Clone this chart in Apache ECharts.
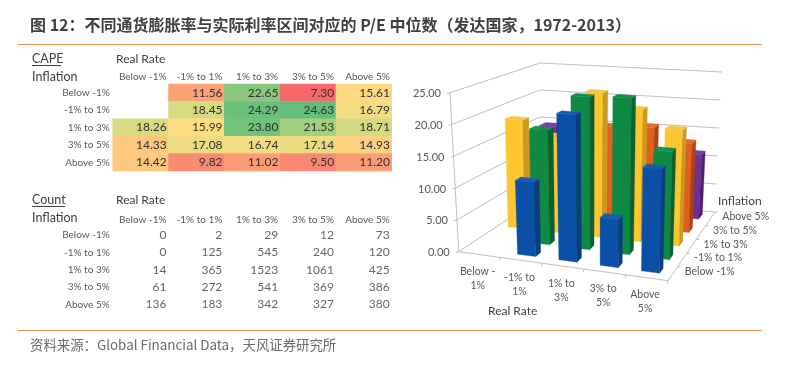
<!DOCTYPE html>
<html>
<head>
<meta charset="utf-8">
<script src="https://cdn.jsdelivr.net/npm/echarts@6/dist/echarts.min.js"></script>
<style>
  html, body { margin: 0; padding: 0; background: #fff; }
  #chart { width: 788px; height: 365px; }
</style>
</head>
<body>
<div id="chart"></div>
<script>
const titleText = "图 12：不同通货膨胀率与实际利率区间对应的 P/E 中位数（发达国家，1972-2013）";
const sourceText = "资料来源：Global Financial Data，天风证券研究所";

const realRates = ["Below -1%", "-1% to 1%", "1% to 3%", "3% to 5%", "Above 5%"];
const inflations = ["Below -1%", "-1% to 1%", "1% to 3%", "3% to 5%", "Above 5%"];
const realRatesWrapped = ["Below -\n1%", "-1% to\n1%", "1% to\n3%", "3% to\n5%", "Above\n5%"];

const capeBelow1 = [null, 11.56, 22.65, 7.3, 15.61];
const capeMinus1To1 = [null, 18.45, 24.29, 24.63, 16.79];
const cape1To3 = [18.26, 15.99, 23.8, 21.53, 18.71];
const cape3To5 = [14.33, 17.08, 16.74, 17.14, 14.93];
const capeAbove5 = [14.42, 9.82, 11.02, 9.5, 11.2];
const capeRows = [capeBelow1, capeMinus1To1, cape1To3, cape3To5, capeAbove5];

const countBelow1 = [0, 2, 29, 12, 73];
const countMinus1To1 = [0, 125, 545, 240, 120];
const count1To3 = [14, 365, 1523, 1061, 425];
const count3To5 = [61, 272, 541, 369, 386];
const countAbove5 = [136, 183, 342, 327, 380];
const countRows = [countBelow1, countMinus1To1, count1To3, count3To5, countAbove5];

const yTicks = [0, 5, 10, 15, 20, 25];

const tableFont = "Lato";
const labelColor = "#595959";
const rowColors = [
  { front: "#0b50a6", side: "#093d7c", top: "#1a5cb0" },
  { front: "#0e8a45", side: "#0a6231", top: "#159050" },
  { front: "#ffc62f", side: "#c99a1f", top: "#f5c544" },
  { front: "#e2601c", side: "#a94412", top: "#e06a2c" },
  { front: "#6f3194", side: "#4f2069", top: "#7a3ca0" }
];

// screen corners of the fake 3d box: front-left, front-right, back-right, back-left
const floorQuad = [[458.7, 251.7], [668, 280.7], [715, 212], [540, 198]];
const topQuad = [[450, 92.7], [672, 111], [722, 72], [540, 63]];

function bilinear(quad, u, v) {
  const fx = quad[0][0] + (quad[1][0] - quad[0][0]) * u;
  const fy = quad[0][1] + (quad[1][1] - quad[0][1]) * u;
  const bx = quad[3][0] + (quad[2][0] - quad[3][0]) * u;
  const by = quad[3][1] + (quad[2][1] - quad[3][1]) * u;
  return [fx + (bx - fx) * v, fy + (by - fy) * v];
}

function project(u, v, h) {
  const a = bilinear(floorQuad, u, v);
  const b = bilinear(topQuad, u, v);
  return [a[0] + (b[0] - a[0]) * h, a[1] + (b[1] - a[1]) * h];
}

function toHeight(params, api, value) {
  const cs = params.coordSys;
  return (cs.y + cs.height - api.coord([0, value])[1]) / cs.height;
}

function poly(points, fill) {
  return { type: "polygon", shape: { points: points }, style: { fill: fill, stroke: fill, lineWidth: 0.3 } };
}

function line(a, b, width) {
  return {
    type: "line",
    shape: { x1: a[0], y1: a[1], x2: b[0], y2: b[1] },
    style: { stroke: "#bfbfbf", lineWidth: width || 1 }
  };
}

function text3d(x, y, str, align, size, color) {
  return {
    type: "text",
    style: {
      x: x,
      y: y,
      text: str,
      align: align,
      verticalAlign: "middle",
      fill: color || labelColor,
      font: (size || 11) + "px " + tableFont,
      lineHeight: 14
    }
  };
}

// walls: one gridline plus one label per tick
function renderWall(params, api) {
  const tick = api.value(0);
  const h = toHeight(params, api, tick);
  const fl = project(0, 0, h);
  const bl = project(0, 1, h);
  const br = project(1, 1, h);
  return {
    type: "group",
    children: [
      line(fl, bl),
      line(bl, br),
      line(fl, [fl[0] - 3, fl[1] + 1]),
      text3d(fl[0] - 9, fl[1] + 1, tick.toFixed(2), "right", 11)
    ]
  };
}

// floor edges, tick marks and the category labels
function renderFloor(params, api) {
  const i = api.value(0);
  const children = [];
  if (i === 0) {
    children.push(line(project(0, 0, 0), project(1, 0, 0)));
    children.push(line(project(1, 0, 0), project(1, 1, 0)));
    children.push(line(project(0, 0, 0), project(0, 0, 1)));
  }
  const a = project((i + 1) / 5, 0, 0);
  children.push(line(a, [a[0] - 1, a[1] + 3]));
  const b = project(1, (i + 1) / 5, 0);
  children.push(line(b, [b[0] + 3, b[1]]));
  const front = project((i + 0.5) / 5, 0, 0);
  children.push(text3d(front[0] - 2, front[1] + 24, realRatesWrapped[i], "center", 10.5));
  const right = project(1, (i + 0.5) / 5, 0);
  children.push(text3d(right[0] + 12, right[1] - 2, inflations[i], "left", 10.5));
  return { type: "group", children: children };
}

function renderBar(params, api) {
  const col = api.value(0);
  const row = api.value(1);
  const h = toHeight(params, api, api.value(2));
  const barW = 0.44 / 5;
  const barD = 0.36 / 5;
  const u0 = (col + 0.48) / 5 - barW / 2;
  const u1 = u0 + barW;
  const v0 = (row + 0.6) / 5 - barD / 2;
  const v1 = v0 + barD;
  const c = rowColors[row];
  return {
    type: "group",
    children: [
      poly([project(u0, v0, 0), project(u1, v0, 0), project(u1, v0, h), project(u0, v0, h)], c.front),
      poly([project(u1, v0, 0), project(u1, v1, 0), project(u1, v1, h), project(u1, v0, h)], c.side),
      poly([project(u0, v0, h), project(u1, v0, h), project(u1, v1, h), project(u0, v1, h)], c.top)
    ]
  };
}

function heatData(rows) {
  const out = [];
  rows.forEach((r, y) => r.forEach((v, x) => {
    if (v !== null) out.push([x, y, v]);
  }));
  return out;
}

function countData(rows) {
  const out = [];
  rows.forEach((r, y) => r.forEach((v, x) => out.push([x + 1, y, v])));
  return out;
}

// back row first so the nearer bars paint over it
function barData(rows) {
  const out = [];
  for (let y = rows.length - 1; y >= 0; y--) {
    rows[y].forEach((v, x) => {
      if (v !== null) out.push([x, y, v]);
    });
  }
  return out;
}

function tableAxes(gridIndex) {
  return {
    x: [
      { gridIndex: gridIndex, type: "category", data: realRates, show: false, position: "bottom" },
      {
        gridIndex: gridIndex,
        type: "value",
        position: "top",
        min: 0,
        max: 5,
        interval: 1,
        axisLine: { show: false },
        axisTick: { show: false },
        splitLine: { show: false },
        axisLabel: {
          align: "right",
          margin: 2,
          padding: [0, 2, 0, 0],
          fontSize: 10,
          fontFamily: tableFont,
          color: labelColor,
          formatter: v => realRates[v - 1] || ""
        }
      }
    ],
    y: {
      gridIndex: gridIndex,
      type: "category",
      data: inflations,
      inverse: true,
      axisLine: { show: false },
      axisTick: { show: false },
      splitLine: { show: false },
      axisLabel: { margin: 3, padding: [3, 0, 0, 0], fontSize: 10, fontFamily: tableFont, color: labelColor }
    }
  };
}

const capeAxes = tableAxes(0);
const countAxes = tableAxes(1);

function sideText(x, y, str, size) {
  return {
    type: "text",
    x: x,
    y: y,
    style: { text: str, fill: "#404040", font: size + "px " + tableFont, verticalAlign: "middle" }
  };
}

function rule(x1, y1, x2, color) {
  return {
    type: "line",
    shape: { x1: x1, y1: y1, x2: x2, y2: y1 },
    style: { stroke: color, lineWidth: 1 }
  };
}

const option = {
  animation: false,
  backgroundColor: "#fff",
  title: [
    {
      text: titleText,
      left: 30,
      top: 17,
      padding: 0,
      textStyle: { fontFamily: "Noto Sans CJK SC", fontSize: 16, fontWeight: "bold", color: "#404040" }
    },
    {
      text: sourceText,
      left: 30,
      top: 338,
      padding: 0,
      textStyle: { fontFamily: "Noto Sans CJK SC", fontSize: 13.4, fontWeight: "normal", color: "#6b6b6b" }
    }
  ],
  graphic: [
    rule(18, 44.5, 762, "#e39149"),
    rule(18, 330.5, 762, "#e39149"),
    sideText(32, 59, "CAPE", 12.5),
    rule(32, 65.5, 61, "#404040"),
    sideText(116, 59, "Real Rate", 12),
    sideText(32, 76.5, "Inflation", 12.5),
    sideText(32, 200, "Count", 12.5),
    rule(32, 206.5, 65, "#404040"),
    sideText(116, 200, "Real Rate", 12),
    sideText(32, 217.5, "Inflation", 12.5),
    sideText(718, 201.5, "Inflation", 12),
    sideText(488, 311.5, "Real Rate", 12)
  ],
  grid: [
    { left: 112.7, top: 84, width: 279, height: 87 },
    { left: 112.7, top: 226.3, width: 279, height: 87 },
    { left: 458.7, top: 92.7, width: 209.3, height: 159 }
  ],
  xAxis: [
    capeAxes.x[0],
    capeAxes.x[1],
    countAxes.x[0],
    countAxes.x[1],
    { gridIndex: 2, type: "category", data: realRates, show: false }
  ],
  yAxis: [
    capeAxes.y,
    countAxes.y,
    { gridIndex: 2, type: "value", min: 0, max: 25, interval: 5, show: false }
  ],
  visualMap: {
    show: false,
    seriesIndex: 0,
    dimension: 2,
    min: 7.3,
    max: 24.63,
    inRange: { color: ["#f8696b", "#fba476", "#ffde82", "#b9d780", "#63be7b"] }
  },
  series: [
    {
      type: "heatmap",
      xAxisIndex: 0,
      yAxisIndex: 0,
      data: heatData(capeRows),
      label: {
        show: true,
        position: "insideRight",
        distance: 2,
        padding: [3, 0, 0, 0],
        fontSize: 12,
        fontFamily: tableFont,
        color: "#303030",
        formatter: p => p.value[2].toFixed(2)
      }
    },
    {
      type: "scatter",
      xAxisIndex: 3,
      yAxisIndex: 1,
      symbolSize: 1,
      itemStyle: { color: "transparent" },
      data: countData(countRows),
      label: {
        show: true,
        position: "left",
        distance: 1.5,
        padding: [2, 0, 0, 0],
        fontSize: 12,
        fontFamily: tableFont,
        color: "#404040",
        formatter: p => String(p.value[2])
      }
    },
    {
      type: "custom",
      xAxisIndex: 4,
      yAxisIndex: 2,
      silent: true,
      z: 2,
      encode: { x: 1, y: 0 },
      data: yTicks.map(t => [t, 0]),
      renderItem: renderWall
    },
    {
      type: "custom",
      xAxisIndex: 4,
      yAxisIndex: 2,
      silent: true,
      z: 2,
      encode: { x: 0, y: 1 },
      data: realRates.map((r, i) => [i, 0]),
      renderItem: renderFloor
    },
    {
      type: "custom",
      xAxisIndex: 4,
      yAxisIndex: 2,
      silent: true,
      z: 3,
      encode: { x: 0, y: 2 },
      data: barData(capeRows),
      renderItem: renderBar
    }
  ]
};

const myChart = echarts.init(document.getElementById("chart"), null, { renderer: "canvas" });
myChart.setOption(option);
</script>
</body>
</html>
